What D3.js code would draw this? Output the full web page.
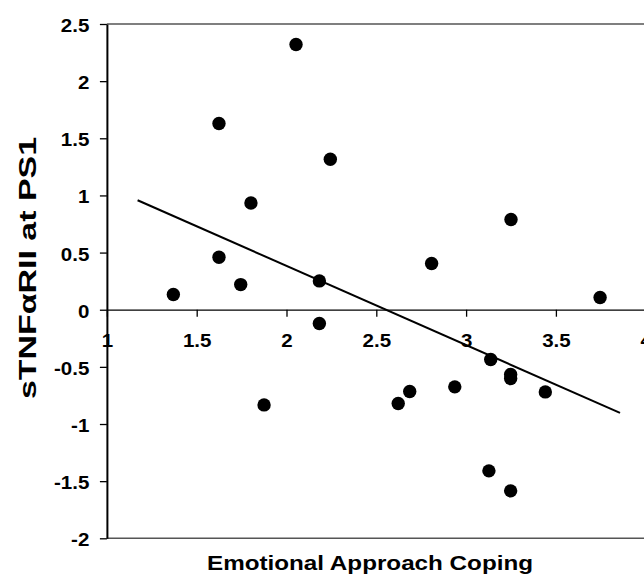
<!DOCTYPE html>
<html>
<head>
<meta charset="utf-8">
<script src="https://cdn.jsdelivr.net/npm/d3@7"></script>
<style>
  body { margin: 0; background: #fff; }
  text { font-family: Arial, "Liberation Sans", sans-serif; font-weight: bold; fill: #000; }
</style>
</head>
<body>
<div id="chart"></div>
<script>
// one dot per participant
const copingScores = [1.370, 1.624, 1.624, 1.745, 1.802, 1.875, 2.053, 2.244, 2.183, 2.183, 2.622,
  2.686, 2.808, 2.937, 3.137, 3.127, 3.248, 3.248, 3.248, 3.250, 3.441, 3.746];
const receptorLevels = [0.133, 1.629, 0.459, 0.220, 0.934, -0.833, 2.320, 1.317, 0.252, -0.121, -0.821,
  -0.716, 0.404, -0.675, -0.436, -1.410, -0.567, -0.602, -1.585, 0.789, -0.719, 0.107];

// fitted line end points
const trendX = [1.171, 3.857];
const trendY = [0.958, -0.903];

const xTicks = [1, 1.5, 2, 2.5, 3, 3.5, 4];
const yTicks = [-2, -1.5, -1, -0.5, 0, 0.5, 1, 1.5, 2, 2.5];
const xTitle = 'Emotional Approach Coping';
const yTitle = 'sTNF\u03B1RII at PS1';

const width = 644;
const height = 583;
const plot = { left: 106.9, right: 645.7, top: 24, bottom: 538.3 };
const stretch = 1.14;

const svg = d3.select('#chart').append('svg')
  .attr('width', width)
  .attr('height', height);

const x = d3.scaleLinear().domain([1, 4]).range([plot.left, plot.right]);
const y = d3.scaleLinear().domain([-2, 2.5]).range([plot.bottom, plot.top]);

// widen label glyphs a little, the source font runs wide
function widen(sel, k) {
  sel.each(function () {
    const w = this.getComputedTextLength();
    d3.select(this)
      .attr('textLength', w * k)
      .attr('lengthAdjust', 'spacingAndGlyphs');
  });
}

// top and bottom frame lines
svg.selectAll('.frame')
  .data([2.5, -2])
  .enter()
  .append('line')
  .attr('class', 'frame')
  .attr('x1', plot.left)
  .attr('x2', width)
  .attr('y1', d => y(d))
  .attr('y2', d => y(d))
  .style('stroke', '#555')
  .style('stroke-width', 1.5);

// x axis sits on zero
const xAxis = svg.append('g')
  .attr('transform', `translate(0,${y(0)})`)
  .call(d3.axisBottom(x).tickValues(xTicks).tickSize(7).tickSizeOuter(0).tickFormat(d => String(d)));
xAxis.select('.domain').style('stroke', '#000').style('stroke-width', 1.3);
xAxis.selectAll('.tick line').style('stroke', '#000').style('stroke-width', 1.3);
xAxis.selectAll('.tick text')
  .attr('y', 37.4)
  .attr('dy', null)
  .style('font-size', '18px')
  .style('font-family', 'Arial, "Liberation Sans", sans-serif')
  .call(widen, stretch);

const yAxis = svg.append('g')
  .attr('transform', `translate(${plot.left},0)`)
  .call(d3.axisLeft(y).tickValues(yTicks).tickSize(7).tickPadding(10.6).tickSizeOuter(0).tickFormat(d => String(d)));
yAxis.select('.domain').style('stroke', '#000').style('stroke-width', 2);
yAxis.selectAll('.tick line').style('stroke', '#000').style('stroke-width', 1.3);
yAxis.selectAll('.tick text')
  .attr('dy', '0.42em')
  .style('font-size', '18px')
  .style('font-family', 'Arial, "Liberation Sans", sans-serif')
  .call(widen, stretch);

// trend line
const line = d3.line()
  .x(d => x(d[0]))
  .y(d => y(d[1]));

svg.append('path')
  .datum(trendX.map((v, i) => [v, trendY[i]]))
  .attr('d', line)
  .style('fill', 'none')
  .style('stroke', '#000')
  .style('stroke-width', 2);

svg.selectAll('.dot')
  .data(copingScores.map((v, i) => [v, receptorLevels[i]]))
  .enter()
  .append('circle')
  .attr('class', 'dot')
  .attr('cx', d => x(d[0]))
  .attr('cy', d => y(d[1]))
  .attr('r', 6.7)
  .style('fill', '#000');

svg.append('text')
  .attr('x', 370)
  .attr('y', 570)
  .attr('text-anchor', 'middle')
  .style('font-size', '21px')
  .attr('textLength', 326)
  .attr('lengthAdjust', 'spacingAndGlyphs')
  .text(xTitle);

svg.append('text')
  .attr('transform', 'translate(36,268) rotate(-90)')
  .attr('text-anchor', 'middle')
  .style('font-size', '23px')
  .attr('textLength', 262)
  .attr('lengthAdjust', 'spacingAndGlyphs')
  .text(yTitle);
</script>
</body>
</html>
